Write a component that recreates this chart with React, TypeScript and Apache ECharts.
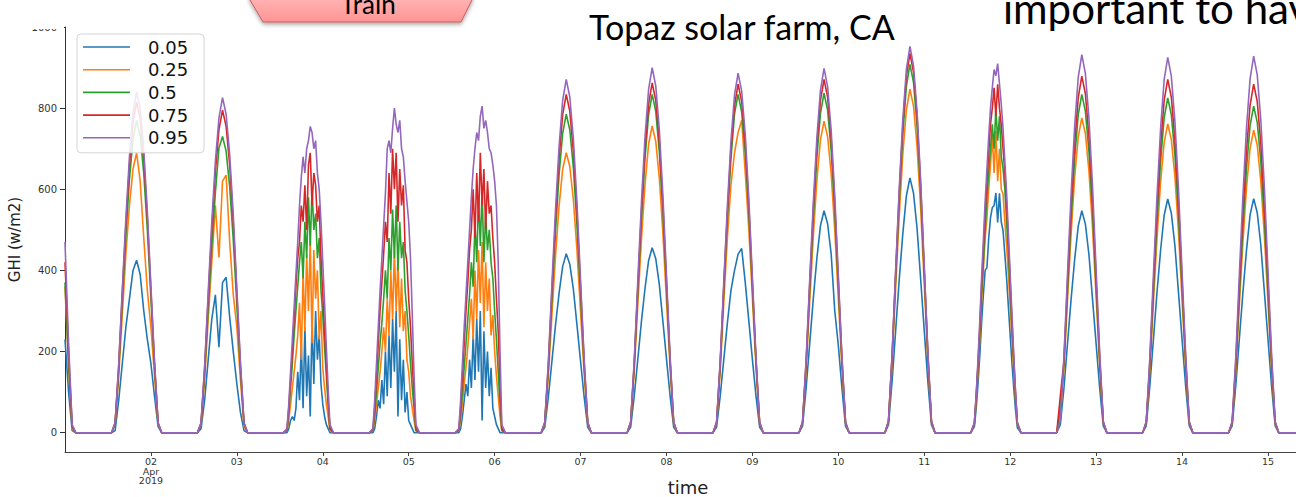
import React, { useEffect, useRef } from "react";
import * as echarts from "echarts";

// ---- data ----
const seriesNames = ["0.05", "0.25", "0.5", "0.75", "0.95"];
const seriesColors = ["#1f77b4", "#ff7f0e", "#2ca02c", "#d62728", "#9467bd"];
const dayTickLabels = ["02", "03", "04", "05", "06", "07", "08", "09", "10", "11", "12", "13", "14", "15"];
const yTickValues = [0, 200, 400, 600, 800, 1000];

// values at Apr 1 00:00, 01:00, 02:00 (tail of Mar 31)
const tailQ05 = [230, 100, 5];
const tailQ25 = [360, 160, 10];
const tailQ50 = [370, 170, 15];
const tailQ75 = [420, 200, 15];
const tailQ95 = [470, 220, 20];

// daylight values per day (Apr 1 .. Apr 14), from 14:00 to 02:00 next day (UTC)
const q05Days = [
  [5, 80, 170, 260, 330, 400, 425, 390, 300, 230, 170, 90, 15],
  [10, 80, 180, 280, 340, 211, 370, 383, 285, 200, 120, 50, 5],
  [0, 10, 30, 40, 30, 60, 150, 80, 220, 60, 260, 90, 190, 40, 280, 120, 300, 180, 240, 120, 70, 40, 20, 10, 0],
  [0, 10, 40, 80, 60, 130, 70, 200, 90, 240, 110, 280, 150, 300, 40, 230, 80, 180, 50, 100, 30, 20, 10, 0, 0],
  [0, 10, 40, 80, 120, 90, 180, 110, 240, 130, 280, 150, 300, 30, 250, 110, 200, 90, 160, 60, 40, 20, 10, 0, 0],
  [13, 88, 176, 265, 344, 410, 441, 415, 353, 265, 176, 88, 13],
  [14, 91, 182, 274, 356, 424, 456, 429, 365, 274, 182, 91, 14],
  [14, 90, 180, 270, 350, 400, 440, 454, 370, 275, 180, 90, 14],
  [16, 110, 220, 330, 430, 510, 547, 515, 440, 300, 215, 110, 16],
  [19, 126, 251, 377, 490, 584, 628, 590, 502, 377, 251, 126, 19],
  [15, 60, 120, 190, 270, 340, 400, 407, 480, 530, 555, 560, 591, 518, 590, 520, 498, 440, 380, 310, 240, 170, 110, 55, 12],
  [20, 109, 219, 328, 427, 509, 547, 514, 438, 328, 219, 109, 16],
  [17, 115, 230, 346, 449, 536, 576, 541, 461, 346, 230, 115, 17],
  [17, 115, 231, 346, 450, 537, 577, 542, 462, 346, 231, 115, 17],
];
const q25Days = [
  [21, 138, 290, 440, 560, 650, 690, 620, 480, 350, 260, 140, 20],
  [20, 130, 280, 420, 560, 432, 620, 635, 470, 340, 260, 130, 15],
  [5, 30, 70, 110, 150, 190, 240, 320, 180, 400, 250, 440, 300, 480, 220, 450, 330, 400, 230, 300, 160, 110, 70, 40, 5],
  [5, 30, 70, 110, 150, 200, 260, 200, 330, 240, 400, 280, 450, 300, 430, 260, 380, 250, 300, 180, 150, 90, 60, 30, 5],
  [5, 30, 70, 120, 160, 210, 270, 330, 230, 400, 280, 450, 320, 470, 260, 420, 300, 380, 240, 290, 200, 140, 90, 40, 5],
  [21, 138, 290, 435, 559, 649, 690, 656, 573, 449, 297, 145, 21],
  [23, 151, 318, 476, 612, 711, 756, 718, 627, 491, 325, 159, 23],
  [23, 150, 320, 480, 610, 690, 740, 770, 640, 500, 330, 160, 23],
  [23, 154, 323, 484, 622, 722, 768, 730, 637, 499, 330, 161, 23],
  [25, 169, 356, 534, 686, 796, 847, 805, 703, 551, 364, 178, 25],
  [22, 80, 150, 230, 320, 400, 480, 530, 600, 660, 731, 640, 744, 620, 700, 600, 589, 520, 460, 390, 310, 230, 150, 80, 20],
  [40, 155, 326, 489, 629, 729, 776, 737, 644, 504, 334, 163, 23],
  [23, 152, 320, 479, 616, 715, 761, 723, 632, 495, 327, 160, 23],
  [22, 149, 313, 470, 604, 701, 746, 709, 619, 485, 321, 157, 22],
];
const q50Days = [
  [23, 154, 323, 485, 624, 724, 770, 732, 639, 500, 331, 162, 23],
  [22, 146, 307, 460, 591, 702, 730, 694, 606, 475, 314, 153, 22],
  [5, 50, 110, 170, 240, 300, 360, 420, 470, 380, 520, 430, 580, 460, 600, 500, 540, 430, 480, 350, 290, 210, 140, 70, 10],
  [5, 45, 100, 160, 220, 270, 330, 400, 330, 480, 400, 550, 430, 560, 400, 520, 430, 470, 350, 300, 240, 170, 110, 60, 5],
  [5, 45, 100, 160, 220, 280, 340, 420, 360, 520, 420, 580, 460, 600, 420, 540, 450, 500, 420, 380, 300, 230, 150, 70, 5],
  [24, 157, 330, 495, 636, 738, 785, 746, 652, 510, 338, 165, 24],
  [25, 167, 350, 525, 676, 784, 834, 792, 692, 542, 359, 175, 25],
  [25, 166, 352, 528, 675, 786, 834, 790, 690, 540, 357, 174, 25],
  [25, 167, 352, 527, 678, 787, 837, 795, 695, 544, 360, 176, 25],
  [27, 182, 381, 572, 735, 854, 908, 863, 754, 590, 390, 191, 27],
  [23, 85, 160, 245, 340, 420, 500, 580, 640, 700, 760, 700, 800, 720, 780, 680, 650, 600, 520, 440, 345, 255, 168, 88, 23],
  [60, 167, 350, 525, 676, 784, 834, 792, 692, 542, 359, 175, 25],
  [25, 165, 347, 520, 668, 776, 825, 784, 685, 536, 355, 173, 25],
  [24, 161, 338, 507, 652, 757, 805, 765, 668, 523, 346, 169, 24],
];
const q75Days = [
  [24, 163, 342, 513, 660, 766, 815, 774, 676, 530, 350, 171, 24],
  [24, 159, 334, 500, 644, 747, 795, 755, 660, 517, 342, 167, 24],
  [8, 60, 130, 200, 280, 360, 430, 470, 560, 520, 610, 500, 660, 690, 560, 640, 610, 520, 560, 430, 340, 250, 160, 80, 10],
  [8, 60, 140, 220, 300, 370, 440, 520, 470, 640, 540, 700, 600, 690, 520, 650, 560, 610, 450, 420, 330, 260, 170, 90, 10],
  [8, 60, 140, 220, 300, 370, 450, 500, 600, 480, 640, 520, 690, 560, 650, 500, 620, 540, 560, 480, 420, 330, 250, 120, 10],
  [25, 167, 350, 525, 676, 784, 834, 792, 692, 542, 359, 175, 25],
  [26, 172, 362, 543, 698, 810, 862, 819, 715, 560, 371, 181, 26],
  [26, 172, 361, 541, 696, 807, 859, 816, 713, 558, 369, 180, 26],
  [26, 174, 366, 549, 706, 819, 871, 827, 723, 566, 375, 183, 26],
  [28, 187, 393, 589, 757, 879, 935, 888, 776, 608, 402, 196, 28],
  [24, 90, 170, 260, 360, 450, 540, 620, 690, 760, 800, 850, 780, 859, 800, 760, 700, 640, 560, 470, 370, 275, 180, 95, 24],
  [90, 176, 369, 554, 712, 826, 879, 835, 730, 571, 378, 185, 26],
  [26, 174, 366, 549, 706, 819, 871, 827, 723, 566, 375, 183, 26],
  [26, 172, 361, 541, 696, 807, 859, 816, 713, 558, 369, 180, 26],
];
const q95Days = [
  [25, 168, 353, 529, 680, 790, 840, 798, 697, 546, 361, 176, 25],
  [25, 165, 347, 520, 669, 776, 826, 785, 686, 537, 355, 173, 25],
  [10, 70, 150, 230, 310, 390, 470, 560, 630, 680, 640, 700, 720, 755, 740, 700, 720, 640, 600, 520, 420, 320, 210, 110, 20],
  [10, 80, 170, 260, 350, 430, 510, 590, 700, 720, 690, 750, 800, 760, 740, 770, 700, 680, 620, 570, 520, 430, 290, 140, 20],
  [10, 80, 170, 260, 340, 420, 500, 580, 650, 700, 740, 720, 780, 805, 750, 770, 740, 700, 690, 660, 620, 560, 420, 200, 20],
  [26, 174, 366, 549, 706, 819, 871, 827, 723, 566, 375, 183, 26],
  [27, 180, 378, 567, 729, 846, 900, 855, 747, 585, 387, 189, 27],
  [27, 177, 372, 558, 718, 833, 886, 842, 735, 576, 381, 186, 27],
  [27, 180, 377, 566, 727, 844, 898, 853, 745, 584, 386, 189, 27],
  [29, 190, 400, 600, 771, 895, 952, 904, 790, 619, 409, 200, 29],
  [25, 95, 180, 275, 380, 475, 570, 650, 730, 800, 850, 895, 880, 910, 860, 810, 750, 670, 590, 490, 390, 290, 190, 100, 25],
  [30, 186, 391, 587, 755, 876, 932, 885, 774, 606, 401, 196, 28],
  [28, 185, 389, 583, 749, 870, 925, 879, 768, 601, 398, 194, 28],
  [28, 186, 390, 585, 752, 872, 928, 882, 770, 603, 399, 195, 28],
];

const seriesTails = [tailQ05, tailQ25, tailQ50, tailQ75, tailQ95];
const seriesDays = [q05Days, q25Days, q50Days, q75Days, q95Days];

// ---- x is hours since 2019-04-01 00:00 UTC ----
const X_MAX = 14.326 * 24;

function buildSeries(tail: number[], days: number[][]) {
  const pts: [number, number][] = [];
  tail.forEach((v, i) => pts.push([i, v]));
  days.forEach((vals, d) => {
    const dayStart = d * 24;
    for (let h = 3; h <= 13; h++) pts.push([dayStart + h, 0]);
    const step = 12 / (vals.length - 1);
    vals.forEach((v, i) => pts.push([dayStart + 14 + i * step, v]));
  });
  const lastStart = days.length * 24;
  for (let h = 3; h <= 9; h++) pts.push([lastStart + h, 0]);
  return pts;
}

const tickHours = dayTickLabels.map((_, i) => (i + 1) * 24);

export default function App() {
  const ref = useRef<HTMLDivElement>(null);
  useEffect(() => {
    if (!ref.current) return;
    const chart = echarts.init(ref.current, null, { renderer: "svg" });
    const option: any = {
      animation: false,
      backgroundColor: "#ffffff",
      grid: { left: 65, right: 0, top: 27, bottom: 45, containLabel: false, outerBoundsMode: "none" },
      legend: {
        data: seriesNames,
        orient: "vertical",
        left: 77,
        top: 34,
        padding: [3, 16, 5, 6],
        icon: "rect",
        itemWidth: 47,
        itemHeight: 1.6,
        itemGap: 2.7,
        backgroundColor: "rgba(255,255,255,0.85)",
        borderColor: "#d4d4d4",
        borderWidth: 1,
        borderRadius: 4,
        textStyle: {
          fontFamily: "DejaVu Sans",
          fontSize: 18,
          color: "#111",
          lineHeight: 20,
          padding: [0, 0, 0, 13],
        },
      },
      xAxis: {
        type: "value",
        min: 0,
        max: X_MAX,
        name: "time",
        nameLocation: "middle",
        nameGap: 26,
        nameMoveOverlap: false,
        nameTextStyle: { fontFamily: "DejaVu Sans", fontSize: 18, color: "#222", padding: [0, 0, 0, 15] },
        axisLine: { show: true, onZero: false, lineStyle: { color: "#444", width: 1 } },
        axisTick: { show: true, length: 4, lineStyle: { color: "#444" }, customValues: tickHours },
        axisLabel: {
          customValues: tickHours,
          fontFamily: "DejaVu Sans",
          fontSize: 9.5,
          lineHeight: 9.5,
          color: "#333",
          margin: 5,
          formatter: (val: number) => {
            const idx = Math.round(val / 24) - 1;
            const lab = dayTickLabels[idx] ?? "";
            return idx === 0 ? lab + "\nApr\n2019" : lab;
          },
        },
        splitLine: { show: false },
      },
      yAxis: {
        type: "value",
        min: -47.6,
        max: 1000,
        name: "GHI (w/m2)",
        nameLocation: "middle",
        nameGap: 43,
        nameMoveOverlap: false,
        nameTextStyle: { fontFamily: "DejaVu Sans", fontSize: 15, color: "#222" },
        axisLine: { show: true, lineStyle: { color: "#333", width: 1 } },
        axisTick: { show: true, length: 5, lineStyle: { color: "#333" }, customValues: yTickValues },
        axisLabel: {
          customValues: yTickValues,
          fontFamily: "DejaVu Sans",
          fontSize: 10,
          color: "#333",
          margin: 8,
          formatter: (v: number) => String(Math.round(v)),
        },
        splitLine: { show: false },
      },
      series: seriesNames.map((name, i) => ({
        name,
        type: "line",
        data: buildSeries(seriesTails[i], seriesDays[i]),
        symbol: "none",
        showSymbol: false,
        lineStyle: { width: 1.6, color: seriesColors[i] },
        itemStyle: { color: seriesColors[i] },
        emphasis: { disabled: true },
      })),
      graphic: [
        { type: "rect", z: 100, shape: { x: 0, y: 0, width: 64, height: 29 }, style: { fill: "#ffffff" } },
        {
          type: "polygon",
          z: 100,
          shape: { points: [[250, -8], [472, -8], [472, 0], [461, 22], [263, 22], [250, 0]] },
          style: {
            fill: new echarts.graphic.LinearGradient(0, 0, 0, 1, [
              { offset: 0, color: "#ffbcbc" },
              { offset: 1, color: "#ff9494" },
            ]),
            stroke: "#c85a5a",
            lineWidth: 1,
            shadowBlur: 4,
            shadowOffsetY: 2,
            shadowColor: "rgba(0,0,0,0.35)",
          },
        },
        {
          type: "text",
          z: 101,
          x: 368,
          y: 4,
          style: { text: "Train", font: "26px Lato", fill: "#000", align: "center", verticalAlign: "middle" },
        },
        {
          type: "text",
          z: 101,
          x: 589,
          y: 26,
          style: { text: "Topaz solar farm, CA", font: "34px Lato", fill: "#000", align: "left", verticalAlign: "middle" },
        },
        {
          type: "text",
          z: 101,
          x: 1003,
          y: 8,
          style: { text: "important to hav", font: "42px Lato", fill: "#000", align: "left", verticalAlign: "middle" },
        },
      ],
    };
    chart.setOption(option);
    return () => chart.dispose();
  }, []);
  return (
    <div
      ref={ref}
      style={{ position: "fixed", left: 0, top: 0, width: 1296, height: 497, background: "#fff" }}
    />
  );
}
